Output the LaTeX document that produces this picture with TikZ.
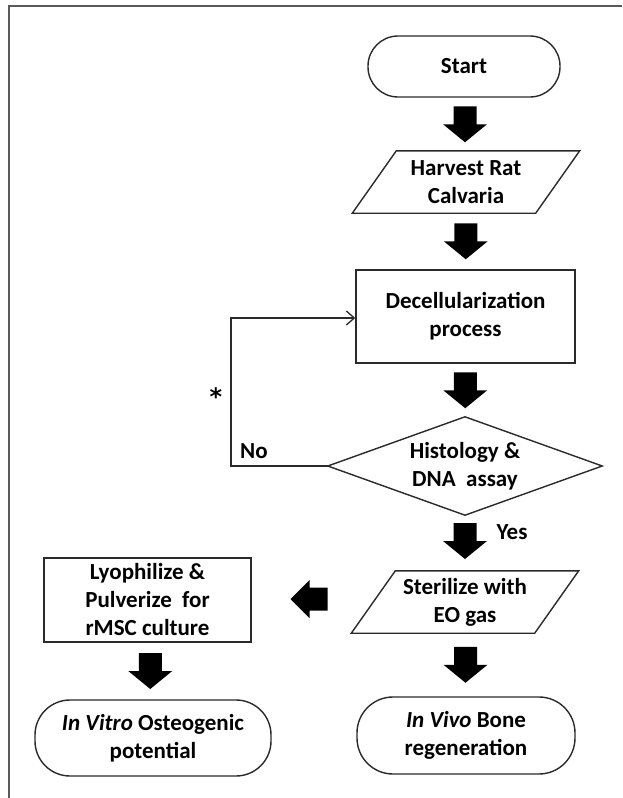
\documentclass[tikz,border=0pt]{standalone}
\usepackage{fontspec}
\setmainfont{Carlito}
\newfontfamily\starfont{DejaVu Sans}
\usetikzlibrary{calc,arrows.meta}
\definecolor{linec}{HTML}{2A2A2A}
\definecolor{framec}{HTML}{5A5A5A}
\tikzset{
  txt/.style={font=\fontsize{23}{28}\selectfont\bfseries, text=black, align=center, inner sep=0pt},
  termbox/.style={txt, draw=linec, line width=1.4pt, rounded corners=30pt},
  procbox/.style={txt, draw=linec, line width=1.4pt},
  plainbox/.style={txt},
  outline/.style={draw=linec, line width=1.4pt},
  loopline/.style={draw=linec, line width=1.3pt, -{Straight Barb[length=8pt,width=14pt,line width=1.3pt]}},
  blkdown/.pic={\fill[black] (-11.5,-18) -- (11.5,-18) -- (11.5,0) -- (22,0) -- (0,18) -- (-22,0) -- (-11.5,0) -- cycle;},
  blkleft/.pic={\fill[black] (18,-11.5) -- (18,11.5) -- (0,11.5) -- (0,19) -- (-19,0) -- (0,-19) -- (0,-11.5) -- cycle;}
}
\begin{document}
\begin{tikzpicture}[x=1pt,y=-1pt]
\useasboundingbox (0,0) rectangle (622,798);
\fill[white] (0,0) rectangle (622,798);
% frame
\draw[framec, line width=2pt] (8.5,798) -- (8.5,5.5) -- (622,5.5);

% nodes
\node[termbox, minimum width=192pt, minimum height=61pt] (start) at (464,66.5) {Start};
\node[plainbox, minimum width=183pt, minimum height=62pt] (harv) at (466,182) {Harvest Rat\\Calvaria};
\draw[outline] ([xshift=-22pt]harv.south west) -- ([xshift=22pt]harv.north west) -- ([xshift=22pt]harv.north east) -- ([xshift=-22pt]harv.south east) -- cycle;
\node[procbox, minimum width=219pt, minimum height=93pt] (decel) at (465.5,316.5) {Decellularization\\process};
\node[plainbox, minimum width=274pt, minimum height=98pt] (hist) at (465,466) {Histology \&\\DNA\ \ assay};
\draw[outline] (hist.north) -- (hist.east) -- (hist.south) -- (hist.west) -- cycle;
\node[plainbox, minimum width=183pt, minimum height=62pt] (ster) at (465,602) {Sterilize with\\EO gas};
\draw[outline] ([xshift=-22pt]ster.south west) -- ([xshift=22pt]ster.north west) -- ([xshift=22pt]ster.north east) -- ([xshift=-22pt]ster.south east) -- cycle;
\node[termbox, minimum width=218pt, minimum height=77pt, rounded corners=36pt] (vivo) at (466,735.5) {\textit{In Vivo} Bone\\regeneration};
\node[procbox, minimum width=207pt, minimum height=84pt] (lyo) at (147.5,600) {Lyophilize \&\\Pulverize\ \ for\\rMSC culture};
\node[termbox, minimum width=236pt, minimum height=76pt, rounded corners=35pt] (vitro) at (153,738) {\textit{In Vitro} Osteogenic\\potential};

% block arrows
\pic at ($(start.south)!0.5!(harv.north)$) {blkdown};
\pic at ($(harv.south)!0.5!(decel.north)$) {blkdown};
\pic at ($(decel.south)!0.5!(hist.north)$) {blkdown};
\pic at ($(hist.south)!0.5!(ster.north)+(0,-2)$) {blkdown};
\pic at ($(ster.south)!0.5!(vivo.north)$) {blkdown};
\pic at ($(lyo.south)!0.5!(vitro.north)$) {blkdown};
\pic at ($(lyo.east)!0.5!(ster.west)+(-3,-2)$) {blkleft};

% loop back
\coordinate (lp1) at (231,466);
\coordinate (lp2) at (231,318);
\draw[loopline] (hist.west) -- (lp1) -- (lp2) -- (decel.west |- lp2);

% labels
\node[txt] (no) at (254,451) {No};
\node[txt, font=\starfont\fontsize{24}{24}\selectfont\bfseries] (star) at (216,397) {*};
\node[txt] (yes) at (512,532) {Yes};
\end{tikzpicture}
\end{document}
